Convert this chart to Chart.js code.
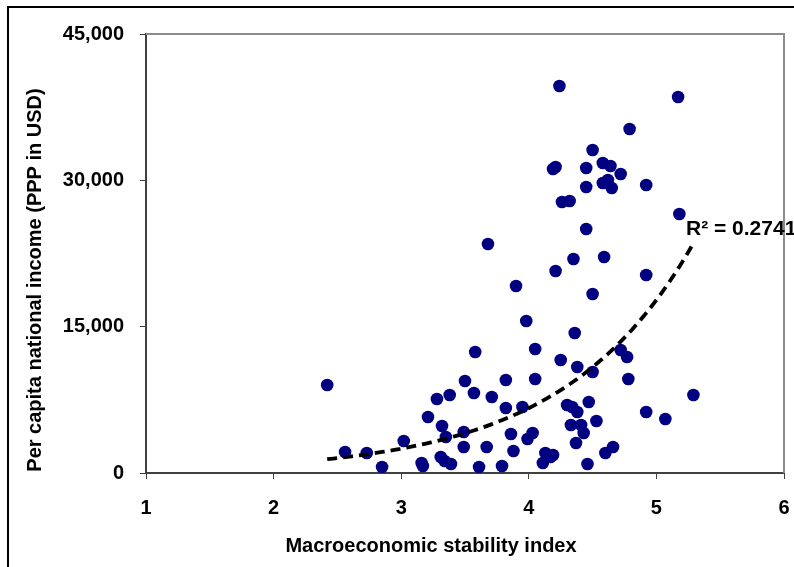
<!DOCTYPE html>
<html>
<head>
<meta charset="utf-8">
<script src="https://cdn.jsdelivr.net/npm/chart.js@4/dist/chart.umd.min.js"></script>
<style>
  body { margin: 0; background: #fff; }
  canvas { display: block; }
</style>
</head>
<body>
<canvas id="myChart" width="794" height="567"></canvas>
<script>
// stability index (x) and per capita income (y)
const stabilityIndex = [
    2.42, 2.56, 2.73, 2.85, 3.02, 3.16, 3.17, 3.28, 3.38, 3.21,
    3.32, 3.35, 3.31, 3.34, 3.39, 3.50, 3.58, 3.57, 3.71, 3.49,
    3.49, 3.67, 3.61, 3.79, 3.82, 3.82, 3.95, 3.86, 3.88, 3.99,
    4.03, 4.05, 4.05, 3.98, 3.90, 3.68, 4.13, 4.19, 4.17, 4.11,
    4.25, 4.38, 4.50, 4.72, 4.77, 4.78, 4.47, 4.30, 4.34, 4.38,
    4.53, 4.33, 4.41, 4.43, 4.37, 4.66, 4.60, 4.46, 4.92, 5.07,
    5.29, 4.24, 5.17, 4.79, 4.50, 4.19, 4.21, 4.45, 4.58, 4.64,
    4.72, 4.92, 4.58, 4.62, 4.65, 4.45, 4.26, 4.32, 5.18, 4.45,
    4.35, 4.59, 4.21, 4.92, 4.50, 4.36
];
const incomePPP = [
    9020, 2150, 2050, 620, 3280, 1030, 720, 7590, 8000, 5740,
    4820, 3690, 1640, 1230, 920, 9430, 12400, 8200, 7790, 4200,
    2670, 2670, 620, 720, 9530, 6660, 6770, 4000, 2260, 3490,
    4100, 9640, 12710, 15580, 19170, 23470, 2050, 1850, 1640, 1030,
    11580, 10870, 10350, 12610, 11890, 9640, 7280, 6970, 6770, 6250,
    5330, 4920, 4920, 4100, 3080, 2670, 2050, 920, 6250, 5540,
    8000, 39670, 38540, 35260, 33110, 31160, 31370, 31260, 31780, 31470,
    30650, 29520, 29730, 30030, 29210, 29320, 27780, 27880, 26550, 25010,
    21940, 22140, 20710, 20300, 18350, 14350
];
const yTicks = [0, 15000, 30000, 45000];
const xTicks = [1, 2, 3, 4, 5, 6];
const rSquaredLabel = 'R\u00B2 = 0.2741';

const points = stabilityIndex.map((x, i) => ({x: x, y: incomePPP[i]}));

// exponential trendline (least squares on ln y), like the spreadsheet does it
let n = points.length, sx = 0, sy = 0, sxx = 0, sxy = 0;
points.forEach(p => {
    const ly = Math.log(p.y);
    sx += p.x; sy += ly; sxx += p.x * p.x; sxy += p.x * ly;
});
const b = (n * sxy - sx * sy) / (n * sxx - sx * sx);
const a = Math.exp((sy - b * sx) / n);
const xMin = Math.min(...stabilityIndex), xMax = Math.max(...stabilityIndex);
const trend = [];
for (let i = 0; i <= 60; i++) {
    const x = xMin + (xMax - xMin) * i / 60;
    trend.push({x: x, y: a * Math.exp(b * x)});
}

const FONT = "'Liberation Sans', Arial, sans-serif";

const frame = {
    id: 'frame',
    afterDraw(chart) {
        const c = chart.ctx, area = chart.chartArea;
        c.save();
        // plot area top and right edge
        c.strokeStyle = '#8c8c8c';
        c.lineWidth = 2;
        c.beginPath();
        c.moveTo(area.left, area.top);
        c.lineTo(area.right, area.top);
        c.lineTo(area.right, area.bottom);
        c.stroke();
        // outer chart border
        c.strokeStyle = '#000';
        c.lineWidth = 2;
        c.strokeRect(8, 7, 900, 700);
        // axis titles
        c.fillStyle = '#000';
        c.font = 'bold 20px ' + FONT;
        c.textAlign = 'center';
        c.textBaseline = 'middle';
        c.fillText('Macroeconomic stability index', 431, 546);
        c.translate(35, 280);
        c.rotate(-Math.PI / 2);
        c.fillText('Per capita national income (PPP in USD)', 0, 0);
        c.restore();
        // R squared label
        c.save();
        c.fillStyle = '#000';
        c.font = 'bold 21px ' + FONT;
        c.textBaseline = 'alphabetic';
        c.fillText(rSquaredLabel, 686, 235);
        c.restore();
    }
};

const ctx = document.getElementById('myChart');
const myChart = new Chart(ctx, {
    type: 'scatter',
    data: {
        datasets: [{
            type: 'line',
            label: 'Trend',
            data: trend,
            borderColor: '#000',
            borderWidth: 3.8,
            borderDash: [10, 6],
            pointRadius: 0,
            fill: false,
            tension: 0
        }, {
            label: 'Countries',
            data: points,
            backgroundColor: '#000080',
            borderColor: '#000080',
            borderWidth: 0,
            pointRadius: 6.3
        }]
    },
    options: {
        responsive: false,
        animation: false,
        devicePixelRatio: 1,
        layout: {
            padding: {left: 0, top: 34, right: 0, bottom: 0}
        },
        plugins: {
            legend: {display: false},
            tooltip: {enabled: false}
        },
        scales: {
            x: {
                type: 'linear',
                min: 1,
                max: 6,
                afterFit: s => { s.height = 94; s.paddingRight = 10; },
                afterBuildTicks: s => { s.ticks = xTicks.map(v => ({value: v})); },
                grid: {drawOnChartArea: false, drawTicks: true, tickLength: 6, color: '#404040', lineWidth: 1},
                border: {display: true, color: '#404040', width: 2},
                ticks: {
                    color: '#000',
                    padding: 17,
                    font: {family: FONT, size: 20, weight: 'bold'}
                }
            },
            y: {
                min: 0,
                max: 45000,
                afterFit: s => { s.width = 146; },
                afterBuildTicks: s => { s.ticks = yTicks.map(v => ({value: v})); },
                grid: {drawOnChartArea: false, drawTicks: true, tickLength: 6, color: '#404040', lineWidth: 1},
                border: {display: true, color: '#404040', width: 2},
                ticks: {
                    color: '#000',
                    padding: 16,
                    font: {family: FONT, size: 20, weight: 'bold'},
                    callback: v => v.toLocaleString('en-US')
                }
            }
        }
    },
    plugins: [frame]
});
</script>
</body>
</html>
